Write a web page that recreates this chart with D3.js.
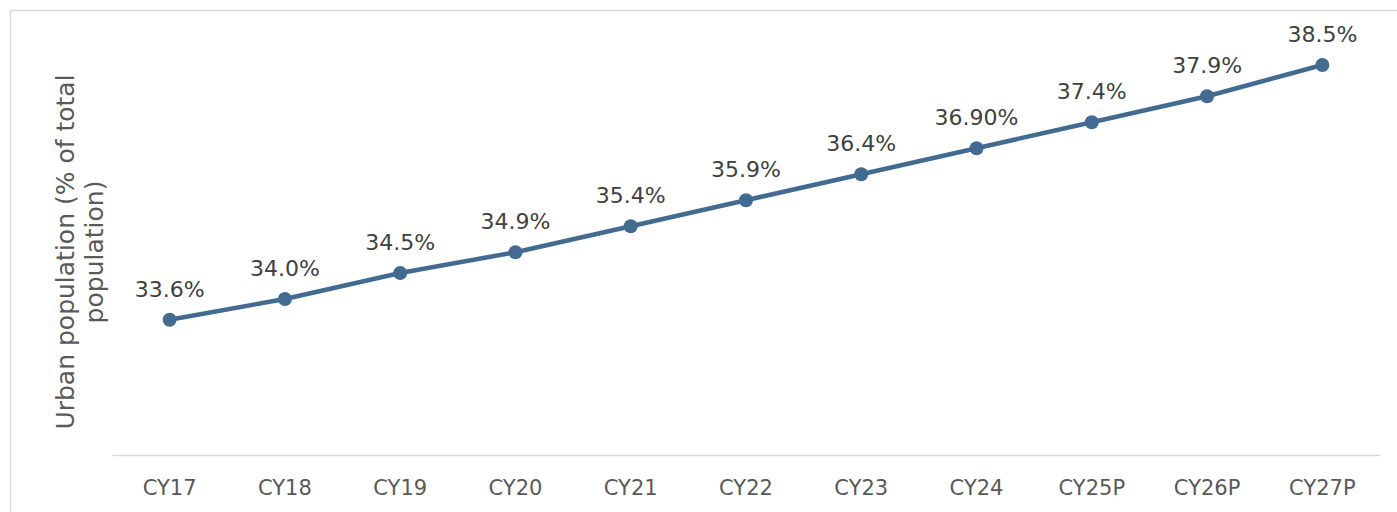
<!DOCTYPE html>
<html>
<head>
<meta charset="UTF-8">
<script src="https://d3js.org/d3.v7.min.js"></script>
<style>
    body { margin: 0; background: #fff; }
    .lbl { font-family: 'DejaVu Sans', Verdana, sans-serif; fill: #404040; }
    .tick-lbl { font-family: 'DejaVu Sans', Verdana, sans-serif; fill: #595959; }
    .axis-title { font-family: 'DejaVu Sans', Verdana, sans-serif; fill: #595959; text-anchor: middle; }
</style>
</head>
<body>
<svg id="chart" width="1397" height="512"></svg>
<script>
    var years = ["CY17", "CY18", "CY19", "CY20", "CY21", "CY22", "CY23", "CY24", "CY25P", "CY26P", "CY27P"];
    var urbanShare = [33.6, 34.0, 34.5, 34.9, 35.4, 35.9, 36.4, 36.9, 37.4, 37.9, 38.5];
    var labels = ["33.6%", "34.0%", "34.5%", "34.9%", "35.4%", "35.9%", "36.4%", "36.90%", "37.4%", "37.9%", "38.5%"];

    var svg = d3.select("#chart");

    // outer chart frame
    svg.append("rect")
        .attr("x", 10.5).attr("y", 10.5)
        .attr("width", 1400).attr("height", 520)
        .attr("fill", "none").attr("stroke", "#d9d9d9").attr("stroke-width", 1.5);

    var x = d3.scaleBand().domain(years).range([112, 1380]);
    var y = d3.scaleLinear().domain([31, 38.5]).range([455, 65]);

    // category axis
    var xAxis = svg.append("g")
        .attr("transform", "translate(0,455)")
        .call(d3.axisBottom(x).tickSize(0).tickPadding(25));
    xAxis.select(".domain").attr("stroke", "#d9d9d9").attr("stroke-width", 1.5);
    xAxis.selectAll("text")
        .attr("class", "tick-lbl")
        .attr("fill", "#595959")
        .style("font-size", "21px")
        .style("font-family", "'DejaVu Sans', Verdana, sans-serif");

    var cx = function (d, i) { return x(years[i]) + x.bandwidth() / 2; };

    var line = d3.line()
        .x(function (d, i) { return cx(d, i); })
        .y(function (d) { return y(d); });

    svg.append("path")
        .datum(urbanShare)
        .attr("d", line)
        .attr("fill", "none")
        .attr("stroke", "#436b91")
        .attr("stroke-width", 4.5);

    svg.selectAll(".dot")
        .data(urbanShare)
        .enter()
        .append("circle")
        .attr("class", "dot")
        .attr("cx", cx)
        .attr("cy", function (d) { return y(d); })
        .attr("r", 7)
        .attr("fill", "#436b91");

    // data labels
    svg.selectAll(".lbl")
        .data(urbanShare)
        .enter()
        .append("text")
        .attr("class", "lbl")
        .attr("x", cx)
        .attr("y", function (d) { return y(d) - 23; })
        .attr("text-anchor", "middle")
        .style("font-size", "22px")
        .text(function (d, i) { return labels[i]; });

    // axis title, two lines
    var title = svg.append("text")
        .attr("class", "axis-title")
        .attr("transform", "translate(0,252) rotate(-90)")
        .style("font-size", "25px");
    title.append("tspan").attr("x", 0).attr("y", 74).text("Urban population (% of total");
    title.append("tspan").attr("x", 0).attr("y", 103).text("population)");
</script>
</body>
</html>
